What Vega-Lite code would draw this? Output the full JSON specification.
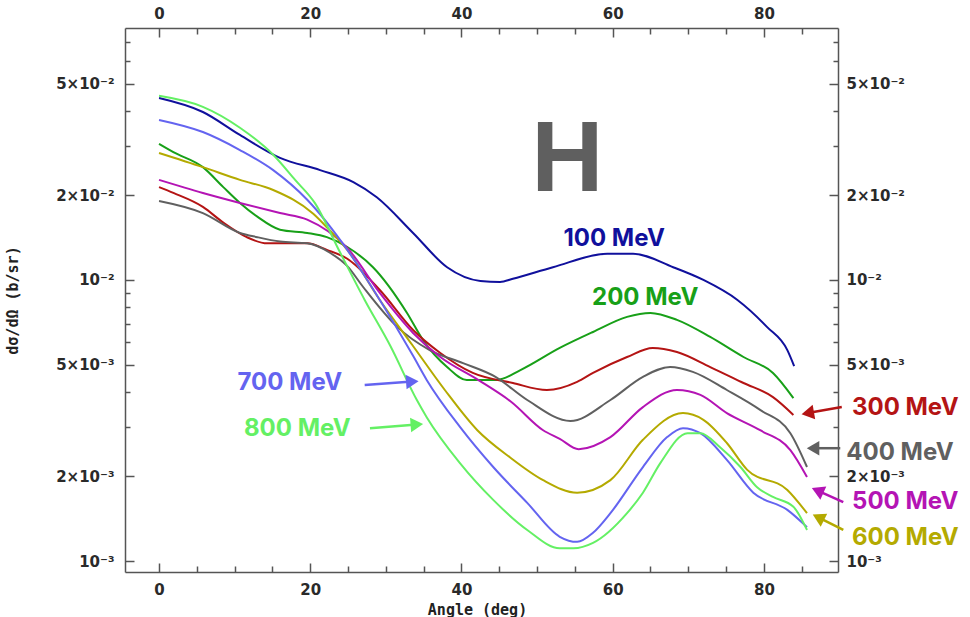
{
  "$schema": "https://vega.github.io/schema/vega-lite/v6.json",
  "width": 713,
  "height": 544,
  "autosize": {"type": "none"},
  "padding": {"left": 125, "top": 28, "right": 132, "bottom": 45},
  "background": "white",
  "config": {
    "view": {"stroke": null},
    "axis": {
      "grid": false,
      "domainColor": "#555555",
      "domainWidth": 1.5,
      "tickColor": "#555555",
      "tickWidth": 1.5,
      "labelFont": "DejaVu Sans",
      "labelFontSize": 15,
      "labelFontWeight": "bold",
      "labelColor": "#2a2a2a",
      "labelOverlap": false,
      "labelFlush": false,
      "labelBound": false
    }
  },
  "datasets": {
    "curves": [
      {"e": "100 MeV", "a": 0, "v": 0.0444}, {"e": "100 MeV", "a": 5.8, "v": 0.0396}, {"e": "100 MeV", "a": 10.7, "v": 0.0328}, {"e": "100 MeV", "a": 16.0, "v": 0.0272}, {"e": "100 MeV", "a": 21.3, "v": 0.0246}, {"e": "100 MeV", "a": 25.7, "v": 0.0223}, {"e": "100 MeV", "a": 28.8, "v": 0.0197}, {"e": "100 MeV", "a": 33.6, "v": 0.0147}, {"e": "100 MeV", "a": 38.1, "v": 0.0111}, {"e": "100 MeV", "a": 42.5, "v": 0.00992}, {"e": "100 MeV", "a": 45.1, "v": 0.00984}, {"e": "100 MeV", "a": 46.8, "v": 0.0101}, {"e": "100 MeV", "a": 52.1, "v": 0.0111}, {"e": "100 MeV", "a": 59.3, "v": 0.0124}, {"e": "100 MeV", "a": 62.7, "v": 0.0124}, {"e": "100 MeV", "a": 68.0, "v": 0.0111}, {"e": "100 MeV", "a": 72.0, "v": 0.0100}, {"e": "100 MeV", "a": 76.5, "v": 0.00849}, {"e": "100 MeV", "a": 80.4, "v": 0.00681}, {"e": "100 MeV", "a": 83.1, "v": 0.00563}, {"e": "100 MeV", "a": 84.0, "v": 0.00494},
      {"e": "200 MeV", "a": 0, "v": 0.0305}, {"e": "200 MeV", "a": 1.9, "v": 0.0285}, {"e": "200 MeV", "a": 5.8, "v": 0.0252}, {"e": "200 MeV", "a": 8.5, "v": 0.0214}, {"e": "200 MeV", "a": 10.7, "v": 0.0188}, {"e": "200 MeV", "a": 13.0, "v": 0.0168}, {"e": "200 MeV", "a": 16.0, "v": 0.0151}, {"e": "200 MeV", "a": 19.6, "v": 0.0147}, {"e": "200 MeV", "a": 22.2, "v": 0.0142}, {"e": "200 MeV", "a": 24.9, "v": 0.0131}, {"e": "200 MeV", "a": 28.3, "v": 0.0111}, {"e": "200 MeV", "a": 32.8, "v": 0.00763}, {"e": "200 MeV", "a": 34.9, "v": 0.00612}, {"e": "200 MeV", "a": 38.1, "v": 0.0049}, {"e": "200 MeV", "a": 40.7, "v": 0.00441}, {"e": "200 MeV", "a": 44.7, "v": 0.00441}, {"e": "200 MeV", "a": 47.8, "v": 0.00478}, {"e": "200 MeV", "a": 53.0, "v": 0.00573}, {"e": "200 MeV", "a": 57.4, "v": 0.00653}, {"e": "200 MeV", "a": 61.9, "v": 0.00739}, {"e": "200 MeV", "a": 65.0, "v": 0.00763}, {"e": "200 MeV", "a": 68.5, "v": 0.00721}, {"e": "200 MeV", "a": 72.9, "v": 0.00627}, {"e": "200 MeV", "a": 77.3, "v": 0.00532}, {"e": "200 MeV", "a": 81.2, "v": 0.00467}, {"e": "200 MeV", "a": 83.9, "v": 0.0038},
      {"e": "300 MeV", "a": 0, "v": 0.0214}, {"e": "300 MeV", "a": 1.9, "v": 0.0204}, {"e": "300 MeV", "a": 5.8, "v": 0.0182}, {"e": "300 MeV", "a": 8.5, "v": 0.016}, {"e": "300 MeV", "a": 11.6, "v": 0.0142}, {"e": "300 MeV", "a": 14.3, "v": 0.0135}, {"e": "300 MeV", "a": 19.6, "v": 0.0135}, {"e": "300 MeV", "a": 22.2, "v": 0.0128}, {"e": "300 MeV", "a": 24.9, "v": 0.0119}, {"e": "300 MeV", "a": 29.2, "v": 0.00921}, {"e": "300 MeV", "a": 33.6, "v": 0.00664}, {"e": "300 MeV", "a": 37.2, "v": 0.0055}, {"e": "300 MeV", "a": 41.5, "v": 0.00467}, {"e": "300 MeV", "a": 46.8, "v": 0.0043}, {"e": "300 MeV", "a": 51.3, "v": 0.00406}, {"e": "300 MeV", "a": 55.3, "v": 0.00434}, {"e": "300 MeV", "a": 57.4, "v": 0.00467}, {"e": "300 MeV", "a": 61.9, "v": 0.00532}, {"e": "300 MeV", "a": 65.3, "v": 0.00573}, {"e": "300 MeV", "a": 68.5, "v": 0.00554}, {"e": "300 MeV", "a": 72.9, "v": 0.0049}, {"e": "300 MeV", "a": 77.3, "v": 0.0043}, {"e": "300 MeV", "a": 81.2, "v": 0.00383}, {"e": "300 MeV", "a": 83.9, "v": 0.00331},
      {"e": "400 MeV", "a": 0, "v": 0.0191}, {"e": "400 MeV", "a": 5.8, "v": 0.0173}, {"e": "400 MeV", "a": 10.7, "v": 0.0147}, {"e": "400 MeV", "a": 13.0, "v": 0.0142}, {"e": "400 MeV", "a": 16.0, "v": 0.0137}, {"e": "400 MeV", "a": 19.6, "v": 0.0135}, {"e": "400 MeV", "a": 22.6, "v": 0.0125}, {"e": "400 MeV", "a": 24.9, "v": 0.0112}, {"e": "400 MeV", "a": 27.0, "v": 0.00944}, {"e": "400 MeV", "a": 31.5, "v": 0.00681}, {"e": "400 MeV", "a": 35.8, "v": 0.00563}, {"e": "400 MeV", "a": 40.2, "v": 0.00506}, {"e": "400 MeV", "a": 44.5, "v": 0.00452}, {"e": "400 MeV", "a": 48.7, "v": 0.00374}, {"e": "400 MeV", "a": 54.4, "v": 0.00315}, {"e": "400 MeV", "a": 59.7, "v": 0.00374}, {"e": "400 MeV", "a": 64.0, "v": 0.00452}, {"e": "400 MeV", "a": 67.6, "v": 0.0049}, {"e": "400 MeV", "a": 70.6, "v": 0.00471}, {"e": "400 MeV", "a": 75.1, "v": 0.00406}, {"e": "400 MeV", "a": 79.5, "v": 0.00345}, {"e": "400 MeV", "a": 83.5, "v": 0.00285}, {"e": "400 MeV", "a": 85.7, "v": 0.00216},
      {"e": "500 MeV", "a": 0, "v": 0.0227}, {"e": "500 MeV", "a": 5.8, "v": 0.0204}, {"e": "500 MeV", "a": 10.7, "v": 0.0188}, {"e": "500 MeV", "a": 16.0, "v": 0.0173}, {"e": "500 MeV", "a": 19.6, "v": 0.0164}, {"e": "500 MeV", "a": 24.9, "v": 0.013}, {"e": "500 MeV", "a": 29.2, "v": 0.00899}, {"e": "500 MeV", "a": 33.6, "v": 0.00648}, {"e": "500 MeV", "a": 37.2, "v": 0.00532}, {"e": "500 MeV", "a": 42.2, "v": 0.00441}, {"e": "500 MeV", "a": 46.6, "v": 0.00368}, {"e": "500 MeV", "a": 50.8, "v": 0.00292}, {"e": "500 MeV", "a": 53.0, "v": 0.00272}, {"e": "500 MeV", "a": 55.5, "v": 0.0025}, {"e": "500 MeV", "a": 59.7, "v": 0.00276}, {"e": "500 MeV", "a": 64.0, "v": 0.00353}, {"e": "500 MeV", "a": 68.5, "v": 0.00406}, {"e": "500 MeV", "a": 71.6, "v": 0.0039}, {"e": "500 MeV", "a": 75.1, "v": 0.00336}, {"e": "500 MeV", "a": 79.5, "v": 0.00292}, {"e": "500 MeV", "a": 83.5, "v": 0.00248}, {"e": "500 MeV", "a": 85.7, "v": 0.00199},
      {"e": "600 MeV", "a": 0, "v": 0.0283}, {"e": "600 MeV", "a": 5.8, "v": 0.0252}, {"e": "600 MeV", "a": 10.7, "v": 0.0227}, {"e": "600 MeV", "a": 15.1, "v": 0.0209}, {"e": "600 MeV", "a": 20.4, "v": 0.0172}, {"e": "600 MeV", "a": 22.2, "v": 0.0154}, {"e": "600 MeV", "a": 24.9, "v": 0.0128}, {"e": "600 MeV", "a": 29.2, "v": 0.00849}, {"e": "600 MeV", "a": 33.5, "v": 0.00587}, {"e": "600 MeV", "a": 37.8, "v": 0.00406}, {"e": "600 MeV", "a": 42.1, "v": 0.00292}, {"e": "600 MeV", "a": 46.4, "v": 0.00234}, {"e": "600 MeV", "a": 50.8, "v": 0.00194}, {"e": "600 MeV", "a": 55.3, "v": 0.00175}, {"e": "600 MeV", "a": 59.7, "v": 0.00194}, {"e": "600 MeV", "a": 64.0, "v": 0.0027}, {"e": "600 MeV", "a": 69.3, "v": 0.00336}, {"e": "600 MeV", "a": 72.0, "v": 0.00318}, {"e": "600 MeV", "a": 75.1, "v": 0.00263}, {"e": "600 MeV", "a": 77.8, "v": 0.00211}, {"e": "600 MeV", "a": 83.1, "v": 0.00179}, {"e": "600 MeV", "a": 85.7, "v": 0.00148},
      {"e": "700 MeV", "a": 0, "v": 0.0371}, {"e": "700 MeV", "a": 5.8, "v": 0.0336}, {"e": "700 MeV", "a": 10.7, "v": 0.029}, {"e": "700 MeV", "a": 15.1, "v": 0.0246}, {"e": "700 MeV", "a": 19.6, "v": 0.0193}, {"e": "700 MeV", "a": 24.9, "v": 0.0128}, {"e": "700 MeV", "a": 29.2, "v": 0.00849}, {"e": "700 MeV", "a": 33.6, "v": 0.00537}, {"e": "700 MeV", "a": 35.4, "v": 0.00441}, {"e": "700 MeV", "a": 39.8, "v": 0.003}, {"e": "700 MeV", "a": 44.2, "v": 0.00216}, {"e": "700 MeV", "a": 48.7, "v": 0.00161}, {"e": "700 MeV", "a": 53.0, "v": 0.00122}, {"e": "700 MeV", "a": 55.3, "v": 0.00117}, {"e": "700 MeV", "a": 57.4, "v": 0.00126}, {"e": "700 MeV", "a": 59.7, "v": 0.00148}, {"e": "700 MeV", "a": 64.0, "v": 0.00216}, {"e": "700 MeV", "a": 67.2, "v": 0.00276}, {"e": "700 MeV", "a": 69.3, "v": 0.00297}, {"e": "700 MeV", "a": 71.6, "v": 0.00285}, {"e": "700 MeV", "a": 75.1, "v": 0.00229}, {"e": "700 MeV", "a": 78.6, "v": 0.00175}, {"e": "700 MeV", "a": 83.1, "v": 0.00152}, {"e": "700 MeV", "a": 85.7, "v": 0.00132},
      {"e": "800 MeV", "a": 0, "v": 0.0452}, {"e": "800 MeV", "a": 5.8, "v": 0.0413}, {"e": "800 MeV", "a": 10.7, "v": 0.0348}, {"e": "800 MeV", "a": 15.1, "v": 0.0279}, {"e": "800 MeV", "a": 18.0, "v": 0.0227}, {"e": "800 MeV", "a": 20.6, "v": 0.0188}, {"e": "800 MeV", "a": 23.9, "v": 0.0126}, {"e": "800 MeV", "a": 27.2, "v": 0.00849}, {"e": "800 MeV", "a": 30.6, "v": 0.00582}, {"e": "800 MeV", "a": 34.1, "v": 0.00374}, {"e": "800 MeV", "a": 35.4, "v": 0.00325}, {"e": "800 MeV", "a": 39.8, "v": 0.00223}, {"e": "800 MeV", "a": 44.2, "v": 0.00165}, {"e": "800 MeV", "a": 48.7, "v": 0.00129}, {"e": "800 MeV", "a": 53.0, "v": 0.00111}, {"e": "800 MeV", "a": 54.8, "v": 0.00111}, {"e": "800 MeV", "a": 57.4, "v": 0.00116}, {"e": "800 MeV", "a": 61.9, "v": 0.00148}, {"e": "800 MeV", "a": 64.0, "v": 0.00175}, {"e": "800 MeV", "a": 66.3, "v": 0.00223}, {"e": "800 MeV", "a": 69.9, "v": 0.00285}, {"e": "800 MeV", "a": 71.6, "v": 0.00285}, {"e": "800 MeV", "a": 74.2, "v": 0.00254}, {"e": "800 MeV", "a": 76.9, "v": 0.00216}, {"e": "800 MeV", "a": 79.1, "v": 0.00183}, {"e": "800 MeV", "a": 81.2, "v": 0.00169}, {"e": "800 MeV", "a": 83.9, "v": 0.00156}, {"e": "800 MeV", "a": 85.7, "v": 0.00129}
    ],
    "labels": [
      {"e": "100 MeV", "a": 60.2, "v": 0.0140},
      {"e": "200 MeV", "a": 64.3, "v": 0.00863},
      {"e": "300 MeV", "a": 98.7, "v": 0.0035},
      {"e": "400 MeV", "a": 98.0, "v": 0.00242},
      {"e": "500 MeV", "a": 98.7, "v": 0.00162},
      {"e": "600 MeV", "a": 98.7, "v": 0.00121},
      {"e": "700 MeV", "a": 17.3, "v": 0.0043},
      {"e": "800 MeV", "a": 18.3, "v": 0.00295}
    ],
    "arrows": [
      {"e": "300 MeV", "a1": 90.3, "v1": 0.00353, "a2": 85.8, "v2": 0.00336},
      {"e": "400 MeV", "a1": 90.1, "v1": 0.00252, "a2": 86.5, "v2": 0.00252},
      {"e": "500 MeV", "a1": 90.5, "v1": 0.00162, "a2": 87.1, "v2": 0.00178},
      {"e": "600 MeV", "a1": 90.5, "v1": 0.00129, "a2": 87.2, "v2": 0.00143},
      {"e": "700 MeV", "a1": 27.2, "v1": 0.00423, "a2": 33.5, "v2": 0.00435},
      {"e": "800 MeV", "a1": 27.9, "v1": 0.00297, "a2": 34.1, "v2": 0.00306}
    ],
    "element": [
      {"t": "H", "a": 54.0, "v": 0.0265}
    ]
  },
  "layer": [
    {
      "data": {"name": "curves"},
      "mark": {"type": "line", "interpolate": "monotone", "strokeWidth": 2},
      "encoding": {
        "x": {
          "field": "a", "type": "quantitative",
          "scale": {"domain": [-4.5, 89.8], "nice": false, "zero": false},
          "axis": {
            "orient": "bottom",
            "values": [0, 5, 10, 15, 20, 25, 30, 35, 40, 45, 50, 55, 60, 65, 70, 75, 80, 85],
            "labelExpr": "datum.value % 20 === 0 ? datum.label : ''",
            "tickSize": {"condition": {"test": "datum.value % 20 === 0", "value": -9}, "value": -6},
            "labelPadding": 19,
            "title": "Angle (deg)",
            "titleFont": "DejaVu Sans Mono",
            "titleFontWeight": "bold",
            "titleFontSize": 15,
            "titleColor": "#222222",
            "titleX": 352,
            "titleY": 37,
            "titleBaseline": "middle",
            "titleAlign": "center"
          }
        },
        "y": {
          "field": "v", "type": "quantitative",
          "scale": {"type": "log", "domain": [0.000914, 0.0788], "nice": false},
          "axis": {
            "orient": "left",
            "values": [0.001, 0.002, 0.003, 0.004, 0.005, 0.006, 0.007, 0.008, 0.009, 0.01, 0.02, 0.03, 0.04, 0.05, 0.06, 0.07],
            "labelExpr": "datum.value === 0.05 ? '5×10⁻²' : datum.value === 0.02 ? '2×10⁻²' : datum.value === 0.01 ? '10⁻²' : datum.value === 0.005 ? '5×10⁻³' : datum.value === 0.002 ? '2×10⁻³' : datum.value === 0.001 ? '10⁻³' : ''",
            "tickSize": {"condition": {"test": "indexof([0.001, 0.002, 0.005, 0.01, 0.02, 0.05], datum.value) >= 0", "value": -9}, "value": -5},
            "labelPadding": 20,
            "title": "dσ/dΩ (b/sr)",
            "titleFont": "DejaVu Sans Mono",
            "titleFontWeight": "bold",
            "titleFontSize": 15,
            "titleColor": "#222222",
            "titleX": -113,
            "titleY": 272,
            "titleAngle": -90,
            "titleBaseline": "middle",
            "titleAlign": "center"
          }
        },
        "color": {
          "field": "e", "type": "nominal", "legend": null,
          "scale": {
            "domain": ["100 MeV", "200 MeV", "300 MeV", "400 MeV", "500 MeV", "600 MeV", "700 MeV", "800 MeV"],
            "range": ["#10109c", "#18a018", "#b41414", "#606060", "#b414b4", "#b4aa00", "#6464f0", "#64f064"]
          }
        },
        "detail": {"field": "e"}
      }
    },
    {
      "data": {"name": "curves"},
      "mark": {"type": "line", "strokeOpacity": 0},
      "encoding": {
        "x": {
          "field": "a", "type": "quantitative",
          "scale": {"domain": [-4.5, 89.8], "nice": false, "zero": false},
          "axis": {
            "orient": "top",
            "values": [0, 5, 10, 15, 20, 25, 30, 35, 40, 45, 50, 55, 60, 65, 70, 75, 80, 85],
            "labelExpr": "datum.value % 20 === 0 ? datum.label : ''",
            "tickSize": {"condition": {"test": "datum.value % 20 === 0", "value": -9}, "value": -6},
            "labelPadding": 16,
            "title": null
          }
        },
        "y": {
          "field": "v", "type": "quantitative",
          "scale": {"type": "log", "domain": [0.000914, 0.0788], "nice": false},
          "axis": {
            "orient": "right",
            "values": [0.001, 0.002, 0.003, 0.004, 0.005, 0.006, 0.007, 0.008, 0.009, 0.01, 0.02, 0.03, 0.04, 0.05, 0.06, 0.07],
            "labelExpr": "datum.value === 0.05 ? '5×10⁻²' : datum.value === 0.02 ? '2×10⁻²' : datum.value === 0.01 ? '10⁻²' : datum.value === 0.005 ? '5×10⁻³' : datum.value === 0.002 ? '2×10⁻³' : datum.value === 0.001 ? '10⁻³' : ''",
            "tickSize": {"condition": {"test": "indexof([0.001, 0.002, 0.005, 0.01, 0.02, 0.05], datum.value) >= 0", "value": -9}, "value": -5},
            "labelPadding": 17,
            "title": null
          }
        },
        "detail": {"field": "e"}
      }
    },
    {
      "data": {"name": "arrows"},
      "mark": {"type": "rule", "strokeWidth": 2.5},
      "encoding": {
        "x": {"field": "a1", "type": "quantitative", "scale": {"domain": [-4.5, 89.8], "nice": false, "zero": false}, "axis": null},
        "x2": {"field": "a2"},
        "y": {"field": "v1", "type": "quantitative", "scale": {"type": "log", "domain": [0.000914, 0.0788], "nice": false}, "axis": null},
        "y2": {"field": "v2"},
        "color": {"field": "e", "type": "nominal", "legend": null}
      }
    },
    {
      "data": {"name": "arrows"},
      "mark": {
        "type": "point", "shape": "triangle-right", "filled": true, "opacity": 1, "size": 210,
        "angle": {"expr": "atan2(scale('y', datum.v2) - scale('y', datum.v1), scale('x', datum.a2) - scale('x', datum.a1)) * 180 / PI"}
      },
      "encoding": {
        "x": {"field": "a2", "type": "quantitative", "scale": {"domain": [-4.5, 89.8], "nice": false, "zero": false}, "axis": null},
        "y": {"field": "v2", "type": "quantitative", "scale": {"type": "log", "domain": [0.000914, 0.0788], "nice": false}, "axis": null},
        "color": {"field": "e", "type": "nominal", "legend": null}
      }
    },
    {
      "data": {"name": "labels"},
      "mark": {"type": "text", "font": "Inter", "fontWeight": "bold", "fontSize": 24, "align": "center", "baseline": "middle"},
      "encoding": {
        "x": {"field": "a", "type": "quantitative", "scale": {"domain": [-4.5, 89.8], "nice": false, "zero": false}, "axis": null},
        "y": {"field": "v", "type": "quantitative", "scale": {"type": "log", "domain": [0.000914, 0.0788], "nice": false}, "axis": null},
        "text": {"field": "e"},
        "color": {"field": "e", "type": "nominal", "legend": null}
      }
    },
    {
      "data": {"name": "element"},
      "mark": {"type": "text", "font": "Liberation Sans", "fontWeight": "bold", "fontSize": 100, "align": "center", "baseline": "middle", "color": "#5f5f5f"},
      "encoding": {
        "x": {"field": "a", "type": "quantitative", "scale": {"domain": [-4.5, 89.8], "nice": false, "zero": false}, "axis": null},
        "y": {"field": "v", "type": "quantitative", "scale": {"type": "log", "domain": [0.000914, 0.0788], "nice": false}, "axis": null},
        "text": {"field": "t"}
      }
    }
  ],
  "resolve": {"axis": {"x": "independent", "y": "independent"}}
}
